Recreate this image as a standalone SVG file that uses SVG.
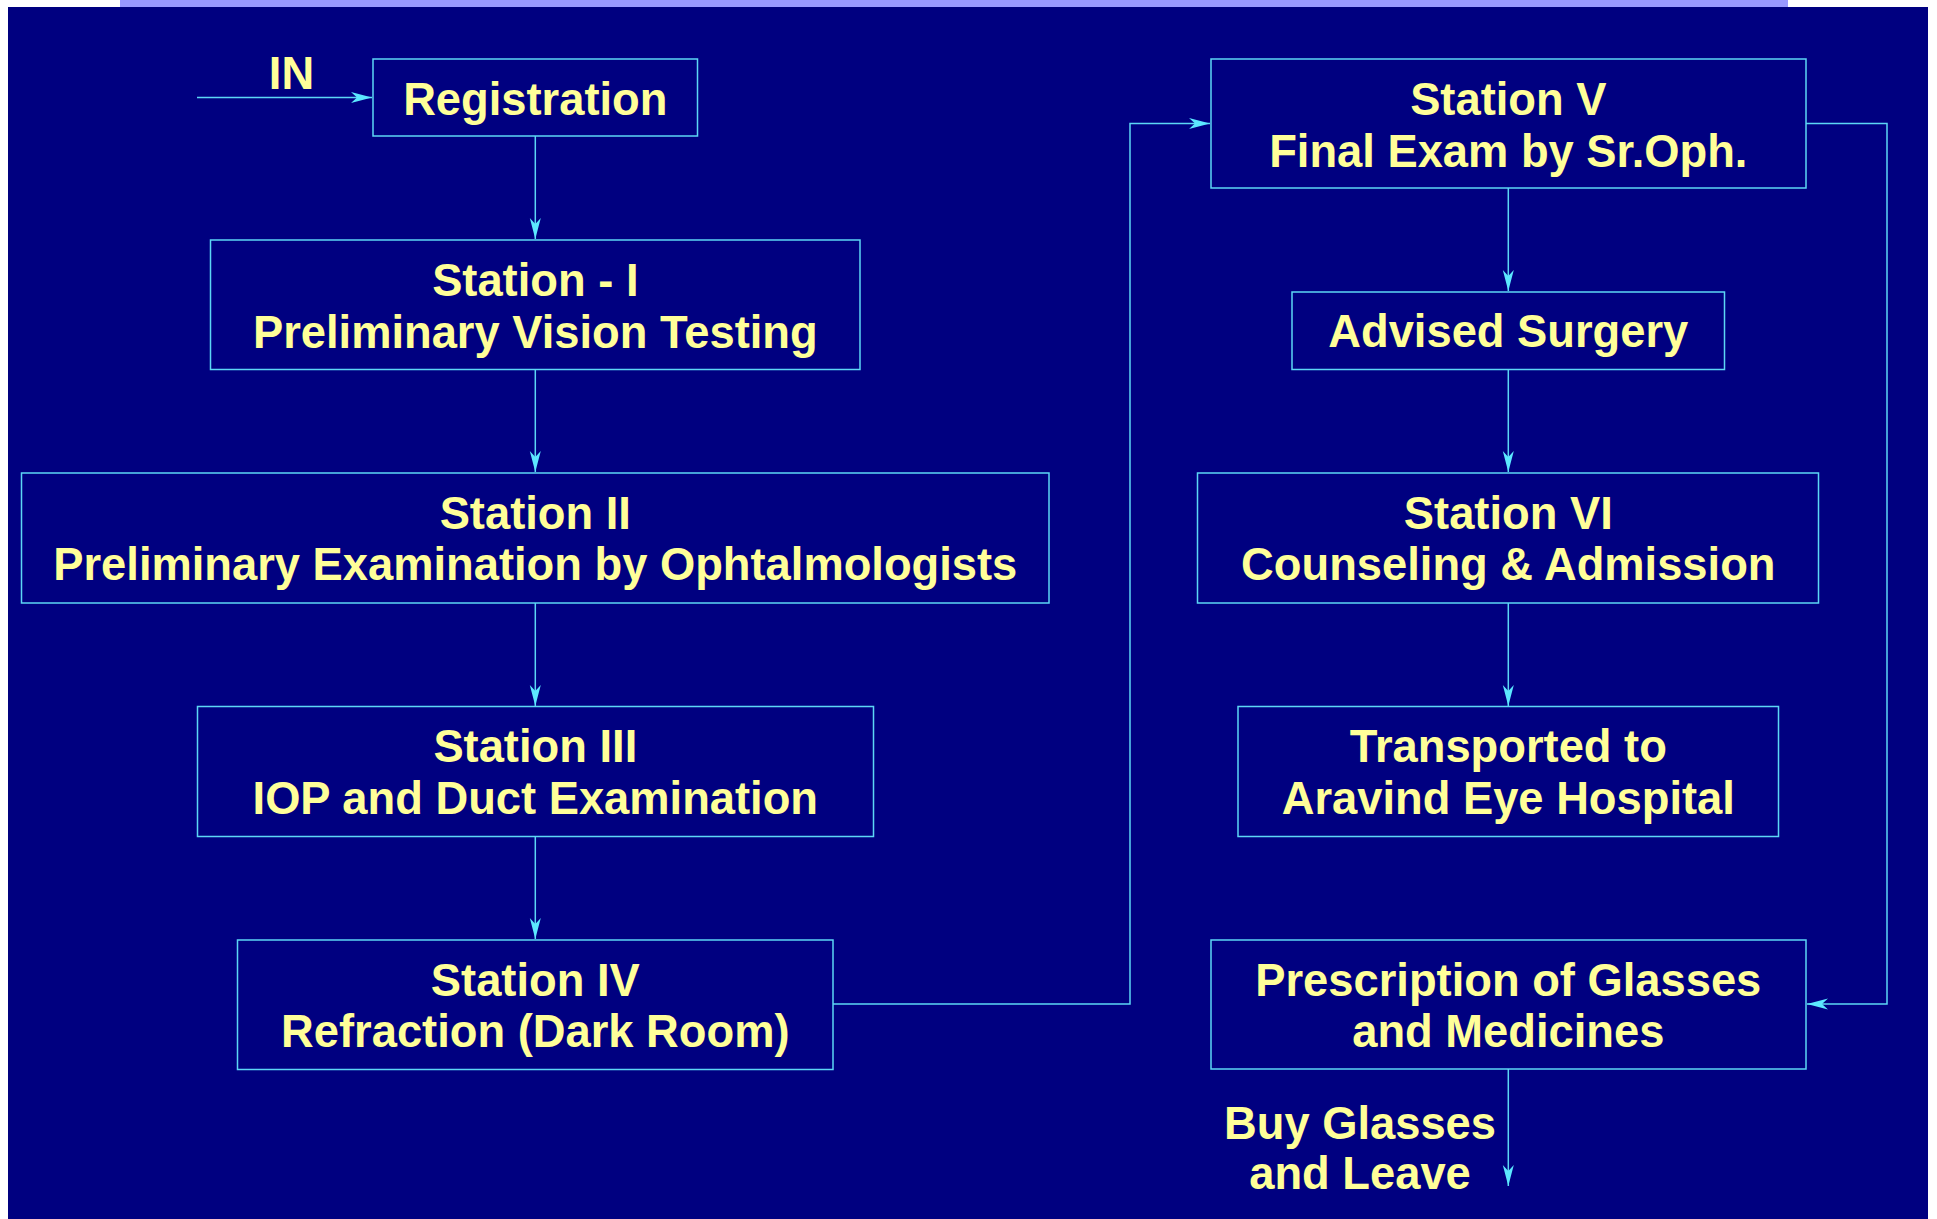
<svg xmlns="http://www.w3.org/2000/svg" width="1937" height="1219" viewBox="0 0 1937 1219">
<style>
.bg{fill:#000080}
.box{fill:none;stroke:#5CD6F5;stroke-width:1.5}
.t{font-family:"Liberation Sans",Arial,sans-serif;font-weight:bold;font-size:45.3px;fill:#FFFF99;text-anchor:middle}
.c{fill:none;stroke:#5CD6F5;stroke-width:1.5}
</style>
<defs>
<marker id="ah" markerUnits="userSpaceOnUse" viewBox="-21 -6 22 12" refX="0" refY="0" markerWidth="22" markerHeight="12" orient="auto">
<path d="M0,0 L-21,-5.5 L-15,0 L-21,5.5 Z" fill="#5CE8FF"/>
</marker>
</defs>
<rect x="0" y="0" width="1937" height="1219" fill="#FFFFFF"/>
<rect x="120" y="0" width="1668" height="7" fill="#9999FF"/>
<rect class="bg" x="8" y="7" width="1920" height="1212"/>

<g id="connectors">
<path class="c" d="M197,97.5 H372" marker-end="url(#ah)"/>
<path class="c" d="M535.3,136 V239" marker-end="url(#ah)"/>
<path class="c" d="M535.3,369.5 V472" marker-end="url(#ah)"/>
<path class="c" d="M535.3,603 V706" marker-end="url(#ah)"/>
<path class="c" d="M535.3,836.5 V939" marker-end="url(#ah)"/>
<path class="c" d="M833,1004 H1130 V123.5 H1210" marker-end="url(#ah)"/>
<path class="c" d="M1806,123.5 H1887 V1004 H1807" marker-end="url(#ah)"/>
<path class="c" d="M1508.3,188 V291" marker-end="url(#ah)"/>
<path class="c" d="M1508.3,369.5 V472" marker-end="url(#ah)"/>
<path class="c" d="M1508.3,603 V706" marker-end="url(#ah)"/>
<path class="c" d="M1508.3,1069 V1186" marker-end="url(#ah)"/>
</g>

<g id="label-in"><text class="t" x="291.5" y="89">IN</text></g>

<g id="registration">
<rect class="box" x="373" y="59" width="324.5" height="77"/>
<text class="t" x="535.3" y="115">Registration</text>
</g>
<g id="station-1">
<rect class="box" x="210.5" y="240" width="649.5" height="129.5"/>
<text class="t" x="535.3" y="296">Station - I</text>
<text class="t" x="535.3" y="347.5">Preliminary Vision Testing</text>
</g>
<g id="station-2">
<rect class="box" x="21.5" y="473" width="1027.5" height="130"/>
<text class="t" x="535.3" y="528.5">Station II</text>
<text class="t" x="535.3" y="580">Preliminary Examination by Ophtalmologists</text>
</g>
<g id="station-3">
<rect class="box" x="197.5" y="706.5" width="676" height="130"/>
<text class="t" x="535.3" y="762">Station III</text>
<text class="t" x="535.3" y="813.5">IOP and Duct Examination</text>
</g>
<g id="station-4">
<rect class="box" x="237.5" y="940" width="595.5" height="129.5"/>
<text class="t" x="535.3" y="995.5">Station IV</text>
<text class="t" x="535.3" y="1047">Refraction (Dark Room)</text>
</g>
<g id="station-5">
<rect class="box" x="1211" y="59" width="595" height="129"/>
<text class="t" x="1508.3" y="114.5">Station V</text>
<text class="t" x="1508.3" y="166.5">Final Exam by Sr.Oph.</text>
</g>
<g id="advised-surgery">
<rect class="box" x="1292" y="292" width="432.5" height="77.5"/>
<text class="t" x="1508.3" y="347">Advised Surgery</text>
</g>
<g id="station-6">
<rect class="box" x="1197.5" y="473" width="621" height="130"/>
<text class="t" x="1508.3" y="528.5">Station VI</text>
<text class="t" x="1508.3" y="580">Counseling &amp; Admission</text>
</g>
<g id="transported">
<rect class="box" x="1238" y="706.5" width="540.5" height="130"/>
<text class="t" x="1508.3" y="762">Transported to</text>
<text class="t" x="1508.3" y="813.5">Aravind Eye Hospital</text>
</g>
<g id="prescription">
<rect class="box" x="1211" y="940" width="595" height="129"/>
<text class="t" x="1508.3" y="995.5">Prescription of Glasses</text>
<text class="t" x="1508.3" y="1047">and Medicines</text>
</g>
<g id="label-leave">
<text class="t" x="1360" y="1138.5">Buy Glasses</text>
<text class="t" x="1360" y="1189">and Leave</text>
</g>
</svg>
